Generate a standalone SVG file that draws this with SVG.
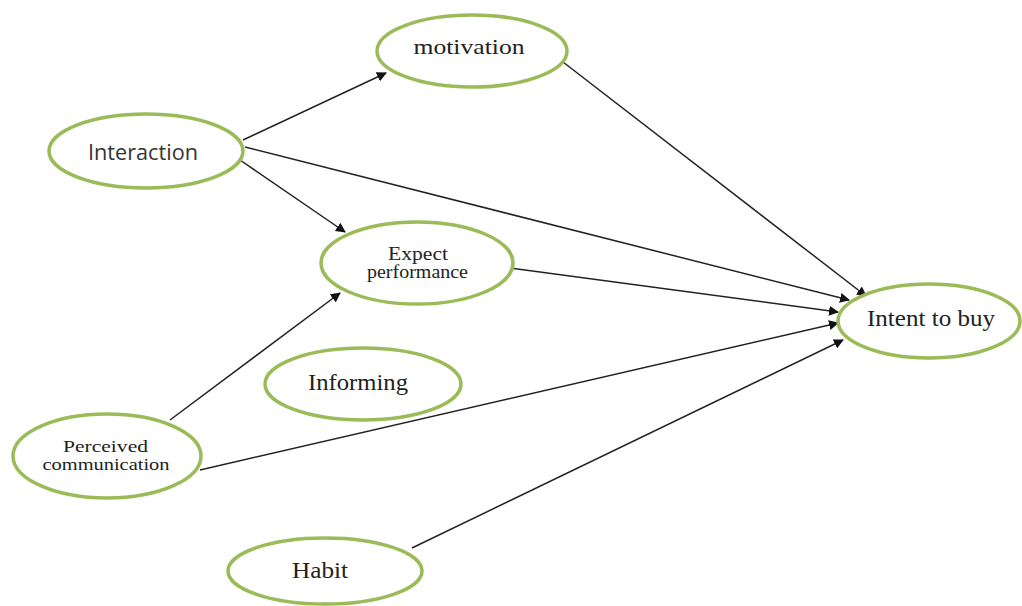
<svg xmlns="http://www.w3.org/2000/svg" width="1022" height="606" viewBox="0 0 1022 606">
<style>
.n{fill:#fff;stroke:#9bbb59;stroke-width:3.5}
.t{font-family:"Liberation Serif",serif;fill:#222;text-anchor:middle}
.s{font-family:"Open Sans","Liberation Sans",sans-serif;fill:#333;text-anchor:middle}
.c line{stroke:#222;stroke-width:1.5;marker-end:url(#a)}
</style>
<defs>
<marker id="a" viewBox="0 0 10 10" refX="9" refY="5" markerWidth="10" markerHeight="10" markerUnits="userSpaceOnUse" orient="auto">
<path d="M0,0L10,5L0,10z" fill="#111"/>
</marker>
</defs>
<rect width="1022" height="606" fill="#fff"/>
<g class="c" id="connectors">
<line x1="243" y1="140" x2="386" y2="73"/>
<line x1="563" y1="62" x2="866" y2="296"/>
<line x1="245" y1="147" x2="849" y2="300"/>
<line x1="240" y1="160" x2="345" y2="232"/>
<line x1="510" y1="268" x2="838" y2="312"/>
<line x1="170" y1="420" x2="340" y2="293"/>
<line x1="200" y1="470" x2="838" y2="323"/>
<line x1="412" y1="548" x2="843" y2="340"/>
</g>
<g id="motivation"><ellipse class="n" cx="472" cy="51" rx="95" ry="36"/><text class="t" x="469" y="54" font-size="22" textLength="111" lengthAdjust="spacingAndGlyphs">motivation</text></g>
<g id="interaction"><ellipse class="n" cx="146" cy="151" rx="97" ry="37"/><text class="s" x="143" y="160" font-size="22" textLength="110" lengthAdjust="spacingAndGlyphs">Interaction</text></g>
<g id="expect"><ellipse class="n" cx="417" cy="263" rx="96" ry="41"/><text class="t" x="418" y="260" font-size="18" textLength="60" lengthAdjust="spacingAndGlyphs">Expect</text><text class="t" x="417.5" y="278" font-size="18" textLength="101" lengthAdjust="spacingAndGlyphs">performance</text></g>
<g id="intent"><ellipse class="n" cx="929" cy="321" rx="91" ry="37"/><text class="t" x="931" y="326" font-size="23" textLength="128" lengthAdjust="spacingAndGlyphs">Intent to buy</text></g>
<g id="informing"><ellipse class="n" cx="363" cy="384" rx="98" ry="36"/><text class="t" x="358" y="390" font-size="24" textLength="100" lengthAdjust="spacingAndGlyphs">Informing</text></g>
<g id="perceived"><ellipse class="n" cx="107" cy="456" rx="94" ry="42"/><text class="t" x="105.5" y="452" font-size="17" textLength="85" lengthAdjust="spacingAndGlyphs">Perceived</text><text class="t" x="106" y="470" font-size="17" textLength="127" lengthAdjust="spacingAndGlyphs">communication</text></g>
<g id="habit"><ellipse class="n" cx="325" cy="571" rx="97" ry="33"/><text class="t" x="320" y="578" font-size="24" textLength="56" lengthAdjust="spacingAndGlyphs">Habit</text></g>
</svg>
